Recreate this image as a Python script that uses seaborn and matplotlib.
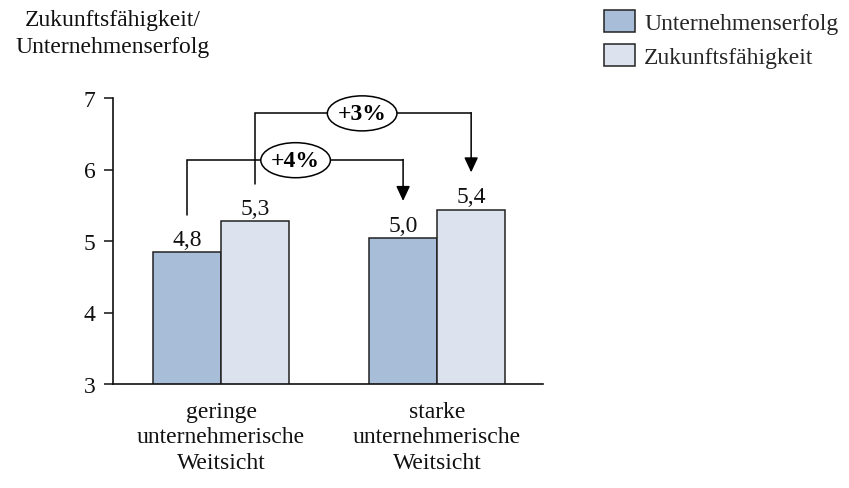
import matplotlib
matplotlib.use("Agg")
import matplotlib.pyplot as plt
from matplotlib.patches import Ellipse, Patch
import seaborn as sns
import pandas as pd

# ---- data ----
categories = ["geringe\nunternehmerische\nWeitsicht", "starke\nunternehmerische\nWeitsicht"]
series = ["Unternehmenserfolg", "Zukunftsfähigkeit"]
unternehmenserfolg = [4.84, 5.04]
zukunftsfaehigkeit = [5.28, 5.44]
value_labels = [["4,8", "5,0"], ["5,3", "5,4"]]
change_labels = ["+4%", "+3%"]
y_ticks = [3, 4, 5, 6, 7]
y_title = "Zukunftsfähigkeit/\nUnternehmenserfolg"
colors = ["#a7bdd8", "#dde3ee"]

df = pd.DataFrame({
    "Gruppe": categories * 2,
    "Reihe": [series[0]] * 2 + [series[1]] * 2,
    "Wert": unternehmenserfolg + zukunftsfaehigkeit,
})

sns.set_theme(style="white")
plt.rcParams["font.family"] = ["Liberation Serif", "DejaVu Serif"]
FS = 17

W, H = 849, 489
fig = plt.figure(figsize=(W / 100, H / 100), dpi=100)
ax = fig.add_axes([113 / W, 1 - 385 / H, (543 - 113) / W, (385 - 99) / H])

sns.barplot(data=df, x="Gruppe", y="Wert", hue="Reihe", hue_order=series,
            palette=colors, width=0.63, edgecolor="#222222", linewidth=1.1,
            saturation=1, legend=False, ax=ax)

ax.set_ylim(3, 7)
ax.set_xlim(-0.5, 1.49)
ax.set_yticks(y_ticks)
ax.set_yticklabels([str(t) for t in y_ticks], fontsize=FS, color="#111111")
ax.tick_params(axis="y", which="major", left=True, length=6.5, width=1.1,
               pad=6, color="#111111")
ax.tick_params(axis="x", length=0, pad=12, labelsize=FS, labelcolor="#111111")
for lab in ax.get_xticklabels():
    lab.set_linespacing(1.3)
ax.set_xlabel("")
ax.set_ylabel("")
for s in ["top", "right"]:
    ax.spines[s].set_visible(False)
for s in ["left", "bottom"]:
    ax.spines[s].set_color("#111111")
    ax.spines[s].set_linewidth(1.2)

# value labels
for cont, labs in zip(ax.containers, value_labels):
    ax.bar_label(cont, labels=labs, padding=1.5, fontsize=FS, color="#111111")

# bar centres
c = [p.get_x() + p.get_width() / 2 for p in ax.containers[0].patches]
z = [p.get_x() + p.get_width() / 2 for p in ax.containers[1].patches]

lw = 1.1
off = 0.52
# +4%: Unternehmenserfolg gering -> stark
y4 = 6.13
ax.plot([c[0], c[0], c[1]], [unternehmenserfolg[0] + off, y4, y4],
        color="black", lw=lw, clip_on=False, solid_joinstyle="miter")
ax.annotate("", xy=(c[1], unternehmenserfolg[1] + off), xytext=(c[1], y4 + 0.01),
            arrowprops=dict(arrowstyle="-|>,head_length=0.6,head_width=0.28",
                            mutation_scale=15, color="black", lw=lw,
                            shrinkA=0, shrinkB=0))
# +3%: Zukunftsfähigkeit gering -> stark
y3 = 6.785
ax.plot([z[0], z[0], z[1]], [zukunftsfaehigkeit[0] + off, y3, y3],
        color="black", lw=lw, clip_on=False, solid_joinstyle="miter")
ax.annotate("", xy=(z[1], zukunftsfaehigkeit[1] + off), xytext=(z[1], y3 + 0.01),
            arrowprops=dict(arrowstyle="-|>,head_length=0.6,head_width=0.28",
                            mutation_scale=15, color="black", lw=lw,
                            shrinkA=0, shrinkB=0))

for (cx, cy), txt in zip([(0.345, y4), (0.653, y3)], change_labels):
    ax.add_patch(Ellipse((cx, cy), 0.322, 0.49, facecolor="white",
                         edgecolor="black", lw=lw, zorder=5, clip_on=False))
    ax.text(cx, cy, txt, ha="center", va="center", fontsize=FS,
            fontweight="bold", zorder=6, color="black")

# y title
fig.text(113 / W, 1 - 34 / H, y_title, ha="center", va="center",
         fontsize=FS, linespacing=1.35, color="#111111", multialignment="center")

# legend
handles = [Patch(facecolor=col, edgecolor="#222222", lw=1.1) for col in colors]
fig.legend(handles, series, loc="upper left", bbox_to_anchor=(604 / W, 1 - 11 / H),
           frameon=False, fontsize=FS, handlelength=1.3, handleheight=1.08,
           handletextpad=0.4, labelspacing=0.4, borderpad=0, borderaxespad=0)

fig.savefig("out.png", dpi=100)
